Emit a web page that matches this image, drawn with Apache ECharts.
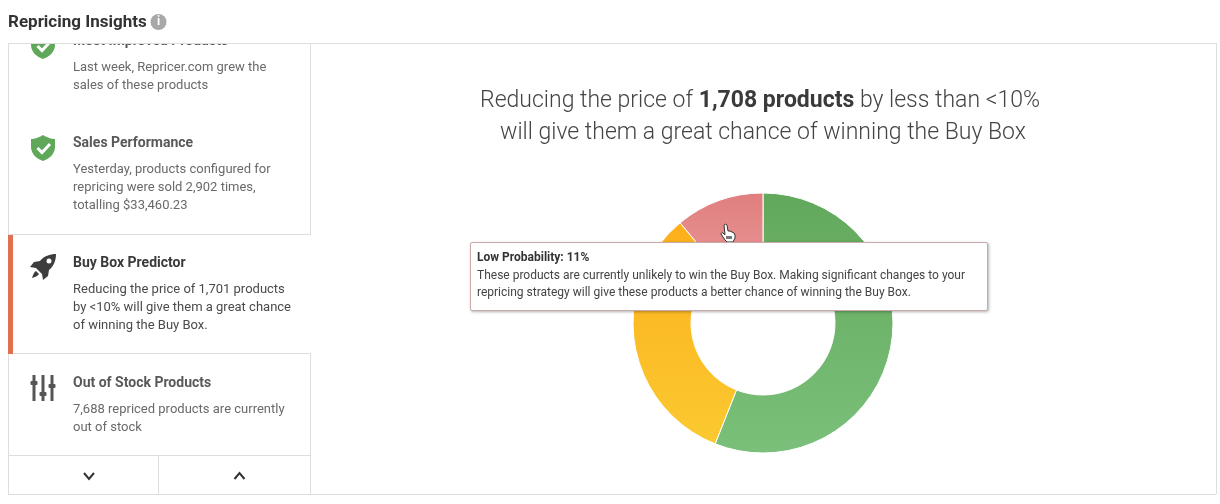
<!DOCTYPE html>
<html>
<head>
<meta charset="utf-8">
<style>
  html, body { margin: 0; padding: 0; background: #fff; }
  #chart { width: 1220px; height: 504px; }
</style>
<script src="https://cdn.jsdelivr.net/npm/echarts@6/dist/echarts.min.js"></script>
</head>
<body>
<div id="chart"></div>
<script>
// Donut values, clockwise from the top
const sliceNames = ['High Probability', 'Medium Probability', 'Low Probability'];
const sliceValues = [56, 33, 11];
const sliceColors = [
    ['#62a85c', '#7bc07a'],
    ['#fbb01c', '#fbc930'],
    ['#e07e7e', '#e99595']
];

const panelTitle = 'Repricing Insights';
const headlineLines = [
    '{n|Reducing the price of }{b|1,708 products}{n| by less than <10%}',
    '{n|will give them a great chance of winning the Buy Box}'
];
const headlineLeft = [760, 763];
const headlineTop = [85, 117];
const tipTitle = 'Low Probability: 11%';
const tipLines = [
    'These products are currently unlikely to win the Buy Box. Making significant changes to your',
    'repricing strategy will give these products a better chance of winning the Buy Box.'
];

// Sidebar rows: heading, then body lines
const sideHeadings = ['Most Improved Products', 'Sales Performance', 'Buy Box Predictor', 'Out of Stock Products'];
const sideHeadingY = [41, 143, 263, 383];
const sideBodies = [
    ['Last week, Repricer.com grew the', 'sales of these products'],
    ['Yesterday, products configured for', 'repricing were sold 2,902 times,', 'totalling $33,460.23'],
    ['Reducing the price of 1,701 products', 'by <10% will give them a great chance', 'of winning the Buy Box.'],
    ['7,688 repriced products are currently', 'out of stock']
];
const activeRow = 2;

const FONT = 'Roboto, sans-serif';
const LINE = '#dedede';

// graphic has no plain svg path type, so icons are registered as shapes
const icons = {
    shieldIcon: 'M12 0C15 2 20 4 24 4L24 12C24 19 18 24 12 26C6 24 0 19 0 12L0 4C4 4 9 2 12 0Z',
    rocketIcon: 'M26 0C20 0 14 2 10 7L4 8L0 13L6 14L12 20L13 26L18 22L19 16C24 12 26 6 26 0ZM6 17L9 20C8 22 5 23 2 24C3 21 4 18 6 17Z',
    handIcon: 'M4 1C5 0 6 0 7 1L8 7L10 7L12 8L14 9L15 11L15 14L13 18L7 18L5 16L1 10C1 9 2 8 3 9L5 11Z'
};
Object.keys(icons).forEach(name => {
    echarts.graphic.registerShape(name, echarts.graphic.extendPath(icons[name], {}));
});

function hLine(x1, x2, y) {
    return { type: 'line', z: 20, shape: { x1: x1, y1: y + 0.5, x2: x2, y2: y + 0.5 }, style: { stroke: LINE, lineWidth: 1 } };
}
function vLine(x, y1, y2) {
    return { type: 'line', z: 20, shape: { x1: x + 0.5, y1: y1, x2: x + 0.5, y2: y2 }, style: { stroke: LINE, lineWidth: 1 } };
}
function label(x, y, text, font, fill, z) {
    return { type: 'text', z: z || 5, style: { x: x, y: y, text: text, font: font, fill: fill, verticalAlign: 'middle' } };
}
function shield(x, y) {
    return [
        { type: 'shieldIcon', z: 5, x: x, y: y, style: { fill: '#5fa85a' } },
        { type: 'polyline', z: 6, shape: { points: [[x + 6.5, y + 13], [x + 11, y + 17.5], [x + 19, y + 9]] }, style: { stroke: '#fff', lineWidth: 3, fill: null } }
    ];
}
function chevron(cx, cy, up) {
    const d = up ? -3 : 3;
    return { type: 'polyline', z: 21, shape: { points: [[cx - 5, cy - d], [cx, cy + d], [cx + 5, cy - d]] }, style: { stroke: '#333', lineWidth: 2, fill: null } };
}

function buildSidebar() {
    const out = [];
    sideHeadings.forEach((head, i) => {
        const isActive = i === activeRow;
        out.push(label(73, sideHeadingY[i], head, 'bold 14px ' + FONT, isActive ? '#3a3a3a' : '#595959'));
        sideBodies[i].forEach((line, j) => {
            out.push(label(73, sideHeadingY[i] + 27 + j * 18, line, '13px ' + FONT, isActive ? '#4a4a4a' : '#6a6a6a'));
        });
    });

    out.push(...shield(31, 33), ...shield(31, 135));

    // rocket
    out.push({ type: 'rocketIcon', z: 5, x: 30, y: 254, style: { fill: '#3d3d3d' } });
    out.push({ type: 'circle', z: 6, shape: { cx: 49, cy: 261, r: 2.5 }, style: { fill: '#fff' } });

    // sliders
    [[34, 383], [43, 394], [52, 386]].forEach(s => {
        out.push({ type: 'rect', z: 5, shape: { x: s[0] - 1.5, y: 375, width: 3, height: 26 }, style: { fill: '#555' } });
        out.push({ type: 'rect', z: 5, shape: { x: s[0] - 3.5, y: s[1] - 2, width: 7, height: 4, r: 1 }, style: { fill: '#555' } });
    });

    // frame of the panel and the sidebar
    out.push(
        { type: 'rect', z: 10, shape: { x: 0, y: 0, width: 1220, height: 43 }, style: { fill: '#fff' } },
        hLine(8, 1216, 43), hLine(8, 1216, 494),
        vLine(8, 43, 494), vLine(1216, 43, 494),
        vLine(310, 43, 235), vLine(310, 353, 494),
        hLine(8, 310, 234), hLine(13, 310, 353), hLine(8, 310, 455),
        vLine(158, 455, 494),
        { type: 'rect', z: 21, shape: { x: 8, y: 235, width: 5, height: 119 }, style: { fill: '#e0704f' } },
        chevron(89, 476, false), chevron(239.5, 476, true)
    );

    // panel title and info icon
    out.push(
        label(8, 23, panelTitle, 'bold 17px ' + FONT, '#333', 30),
        { type: 'circle', z: 30, shape: { cx: 158.5, cy: 22, r: 8 }, style: { fill: '#a8a8a8' } },
        { type: 'text', z: 31, style: { x: 158.5, y: 22, text: 'i', font: 'bold 12px ' + FONT, fill: '#fff', align: 'center', verticalAlign: 'middle' } }
    );

    // hand cursor over the red slice
    out.push({ type: 'handIcon', z: 40, x: 720, y: 224, style: { fill: '#fff', stroke: '#333', lineWidth: 1 } });
    out.push({ type: 'rect', z: 41, shape: { x: 726, y: 236, width: 6, height: 3 }, style: { fill: '#777' } });
    return out;
}

const myChart = echarts.init(document.getElementById('chart'), null, { renderer: 'canvas' });

const option = {
    animation: false,
    backgroundColor: '#fff',
    title: headlineLines.map((line, i) => ({
        left: headlineLeft[i],
        top: headlineTop[i],
        textAlign: 'center',
        text: line,
        padding: 0,
        textStyle: {
            rich: {
                n: { fontFamily: FONT, fontSize: 23, fontWeight: 300, color: '#444', lineHeight: 32 },
                b: { fontFamily: FONT, fontSize: 23, fontWeight: 'bold', color: '#3a3a3a', lineHeight: 32 }
            }
        }
    })),
    tooltip: {
        trigger: 'item',
        alwaysShowContent: true,
        showDelay: 0,
        transitionDuration: 0,
        position: [470, 242],
        padding: 0,
        borderWidth: 0,
        backgroundColor: 'transparent',
        extraCssText: 'box-shadow:none;',
        formatter: function () {
            return '<div style="box-sizing:border-box;width:518px;height:69px;padding:6px 6px;background:#fff;border:1px solid #c9a9a9;border-radius:2px;box-shadow:1px 1px 3px rgba(0,0,0,.3);font:12px/17.5px ' + FONT + ';color:#444;white-space:nowrap;">' +
                '<b style="color:#333">' + tipTitle + '</b><br>' + tipLines.join('<br>') + '</div>';
        }
    },
    graphic: { elements: buildSidebar() },
    series: [{
        type: 'pie',
        center: [763, 323],
        radius: [72, 130],
        startAngle: 90,
        clockwise: true,
        label: { show: false },
        labelLine: { show: false },
        emphasis: { scale: false },
        itemStyle: { borderColor: '#fff', borderWidth: 1 },
        data: sliceValues.map((v, i) => ({
            name: sliceNames[i],
            value: v,
            itemStyle: {
                color: new echarts.graphic.LinearGradient(0, 0, 0, 1, [
                    { offset: 0, color: sliceColors[i][0] },
                    { offset: 1, color: sliceColors[i][1] }
                ])
            }
        }))
    }]
};

myChart.setOption(option);
myChart.dispatchAction({ type: 'showTip', seriesIndex: 0, dataIndex: 2 });
</script>
</body>
</html>
